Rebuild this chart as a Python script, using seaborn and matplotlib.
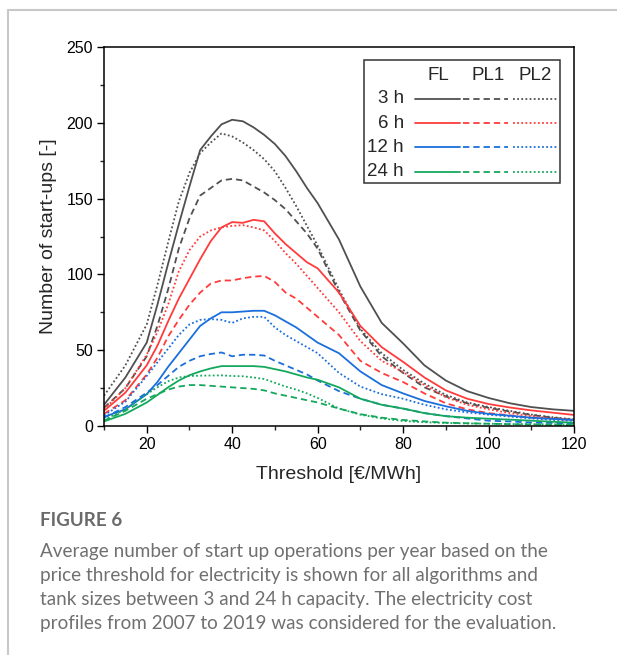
import pandas as pd
import matplotlib.pyplot as plt
from matplotlib.lines import Line2D
from matplotlib.patches import Rectangle
from matplotlib.ticker import MultipleLocator
import seaborn as sns

# price thresholds in EUR/MWh
thresholds = [10, 15, 20, 22.5, 25, 27.5, 30, 32.5, 35, 37.5,
              40, 42.5, 45, 47.5, 50, 52.5, 55, 57.5,
              60, 65, 70, 75, 80, 85, 90, 95, 100, 105, 110, 115, 120]

# start-ups per year, 3 h tank
fl_3h = [14, 32, 55, 80, 107, 133, 158, 182, 191, 199,
         202, 201, 197, 192, 186, 178, 168, 157,
         147, 123, 92, 68, 54.5, 40, 30, 23, 18.5, 15, 12.5, 11, 10]
pl1_3h = [12, 25, 46, 66, 90, 117, 137, 152, 157, 162,
          163, 162, 158, 154, 149, 143, 135, 127,
          117, 88, 63, 46, 35, 25.5, 19.5, 15, 12, 9.5, 7.3, 5.5, 4]
pl2_3h = [20, 40, 67, 93, 121, 148, 167, 180, 187, 193,
          191, 187, 182, 176, 168, 157, 145, 132,
          119, 90, 64, 48, 37, 28, 20.5, 15.5, 12.5, 10, 7.5, 5.8, 4.4]

# 6 h tank
fl_6h = [10, 22, 40, 53, 69, 84, 97, 110, 122, 131,
         134.5, 134, 136, 135, 127, 120, 114, 108,
         104, 88, 66, 52, 42.3, 32, 23.5, 18, 14.5, 12.2, 10.3, 8.8, 7.3]
pl1_6h = [8, 17, 34, 45, 59, 70, 80, 88, 94, 96,
          96, 97.5, 98.5, 99, 95, 88, 84, 78,
          72, 60, 43, 35, 29, 21.5, 15, 11, 8.5, 7, 5.5, 4.7, 4]
pl2_6h = [11, 25, 47, 62, 80, 102, 116, 125, 129, 131,
          132, 132.5, 131, 129, 122, 114, 107, 99,
          91, 75, 56, 43, 35.5, 27, 19, 14, 11, 8.5, 6.5, 5, 4]

# 12 h tank
fl_12h = [6, 11, 21, 29, 39, 48, 57, 66, 71, 75,
          75, 75.5, 76, 76, 73, 69, 65, 60,
          55, 48, 36, 27, 21.5, 16.5, 13, 10, 8, 6.8, 5.5, 4.7, 4]
pl1_12h = [5.5, 12.5, 22, 27, 33, 39, 43, 46, 47.5, 48.5,
           46, 47, 47, 46.5, 43, 40, 37, 34,
           30, 23, 18, 14, 11.5, 8.5, 6.5, 5, 3.5, 3, 2.3, 2, 1.8]
pl2_12h = [7, 16, 33, 42, 51, 60, 67, 70, 70.5, 70,
           68, 71, 72, 72, 65, 60, 56, 52,
           48, 35, 26, 21, 18, 14, 11, 9, 7.5, 6.2, 5, 4, 3.4]

# 24 h tank
fl_24h = [3, 8, 15.5, 20.5, 25.5, 30, 33.5, 36, 38, 39.5,
          39.5, 39.5, 39.5, 39, 37.5, 36, 34, 32,
          30.5, 25.5, 18, 14, 11.5, 8.5, 6.5, 5.5, 4.8, 4.2, 3.5, 2.8, 2.2]
pl1_24h = [3.5, 10, 18, 21, 24, 26, 27, 27, 26.5, 26,
           25.5, 25, 24.5, 23.5, 21.5, 20, 18.5, 17,
           15.5, 11.5, 7.8, 5.5, 4, 3, 2.2, 1.8, 1.5, 1.2, 1, 0.8, 0.7]
pl2_24h = [4, 11, 21, 25.5, 29.5, 32, 33, 33.2, 33.3, 33.4,
           33, 32.8, 32, 31, 28.5, 26, 24, 21.5,
           18.5, 11.5, 7.5, 5, 3.3, 2.5, 2, 1.7, 1.5, 1.3, 1.2, 1.1, 1]

sizes = ['3 h', '6 h', '12 h', '24 h']
algorithms = ['FL', 'PL1', 'PL2']
caption_title = 'FIGURE 6'
caption_lines = [
    'Average number of start up operations per year based on the',
    'price threshold for electricity is shown for all algorithms and',
    'tank sizes between 3 and 24 h capacity. The electricity cost',
    'profiles from 2007 to 2019 was considered for the evaluation.',
]

series = {
    ('3 h', 'FL'): fl_3h, ('3 h', 'PL1'): pl1_3h, ('3 h', 'PL2'): pl2_3h,
    ('6 h', 'FL'): fl_6h, ('6 h', 'PL1'): pl1_6h, ('6 h', 'PL2'): pl2_6h,
    ('12 h', 'FL'): fl_12h, ('12 h', 'PL1'): pl1_12h, ('12 h', 'PL2'): pl2_12h,
    ('24 h', 'FL'): fl_24h, ('24 h', 'PL1'): pl1_24h, ('24 h', 'PL2'): pl2_24h,
}

rows = []
for (size, algo), values in series.items():
    for x, y in zip(thresholds, values):
        rows.append({'threshold': x, 'startups': y, 'size': size, 'algo': algo})
df = pd.DataFrame(rows)

sns.set_style('ticks')
plt.rcParams['font.family'] = ['Liberation Sans', 'DejaVu Sans']

colors = {'3 h': '#505050', '6 h': '#ff3b3b', '12 h': '#1a6fdc', '24 h': '#14a85c'}
dashes = {'FL': '', 'PL1': (3.5, 2.2), 'PL2': (1, 1.3)}
lw = 1.3

W, H = 617, 655
fig = plt.figure(figsize=(W / 100, H / 100), dpi=100)
ax = fig.add_axes([104 / W, 1 - 426 / H, 470 / W, 379 / H])

sns.lineplot(data=df, x='threshold', y='startups', hue='size', style='algo',
             hue_order=sizes, style_order=algorithms, palette=colors,
             dashes=dashes, linewidth=lw, legend=False, ax=ax)

ax.set_xlim(10, 120)
ax.set_ylim(0, 250)
ax.xaxis.set_major_locator(MultipleLocator(20))
ax.xaxis.set_minor_locator(MultipleLocator(10))
ax.yaxis.set_major_locator(MultipleLocator(50))
ax.yaxis.set_minor_locator(MultipleLocator(25))
ax.tick_params(which='major', direction='out', length=5, width=1, labelsize=11.5,
               colors='black', pad=3)
ax.tick_params(which='minor', direction='out', length=3, width=1)
for sp in ax.spines.values():
    sp.set_linewidth(1.1)
    sp.set_color('black')
ax.set_xlabel('Threshold [€/MWh]', fontsize=14, labelpad=10)
ax.set_ylabel('Number of start-ups [-]', fontsize=14, labelpad=7)

# legend laid out as a grid: rows = tank size, columns = algorithm
def ax_x(px):
    return (px - 104) / 470

def ax_y(py):
    return (426 - py) / 379

ax.add_patch(Rectangle((ax_x(364), ax_y(183)), ax_x(560) - ax_x(364), ax_y(60) - ax_y(183),
                       transform=ax.transAxes, fill=False, edgecolor='#333333', lw=1.1))
col_centers = {'FL': 438, 'PL1': 488, 'PL2': 535.5}
col_spans = {'FL': (415, 460), 'PL1': (463, 508), 'PL2': (513, 558)}
row_y = {'3 h': 98.5, '6 h': 123, '12 h': 147, '24 h': 172}
for algo in algorithms:
    ax.text(ax_x(col_centers[algo]), ax_y(76), algo, transform=ax.transAxes,
            ha='center', va='center', fontsize=13.5)
for size in sizes:
    ax.text(ax_x(404), ax_y(row_y[size]), size, transform=ax.transAxes,
            ha='right', va='center', fontsize=13.5)
    for algo in algorithms:
        x0, x1 = col_spans[algo]
        line = Line2D([ax_x(x0), ax_x(x1)], [ax_y(row_y[size])] * 2, transform=ax.transAxes,
                      color=colors[size], lw=lw)
        if dashes[algo]:
            line.set_dashes(dashes[algo])
        ax.add_line(line)

# page frame
fig.add_artist(Line2D([8 / W, 8 / W], [0, 1 - 10 / H], transform=fig.transFigure,
                      color='#c8c8c8', lw=1.5))
fig.add_artist(Line2D([8 / W, 1], [1 - 10 / H, 1 - 10 / H], transform=fig.transFigure,
                      color='#c8c8c8', lw=1.5))

# caption
fig.text(40 / W, 1 - 521 / H, caption_title, fontsize=13.6, fontweight='bold',
         color='#6a6a6a', family=['Lato', 'DejaVu Sans'], va='center')
for i, line_text in enumerate(caption_lines):
    fig.text(40 / W, 1 - (551 + 24 * i) / H, line_text, fontsize=13.6,
             color='#707070', family=['Lato', 'DejaVu Sans'], va='center')

fig.savefig('out.png', dpi=100)
